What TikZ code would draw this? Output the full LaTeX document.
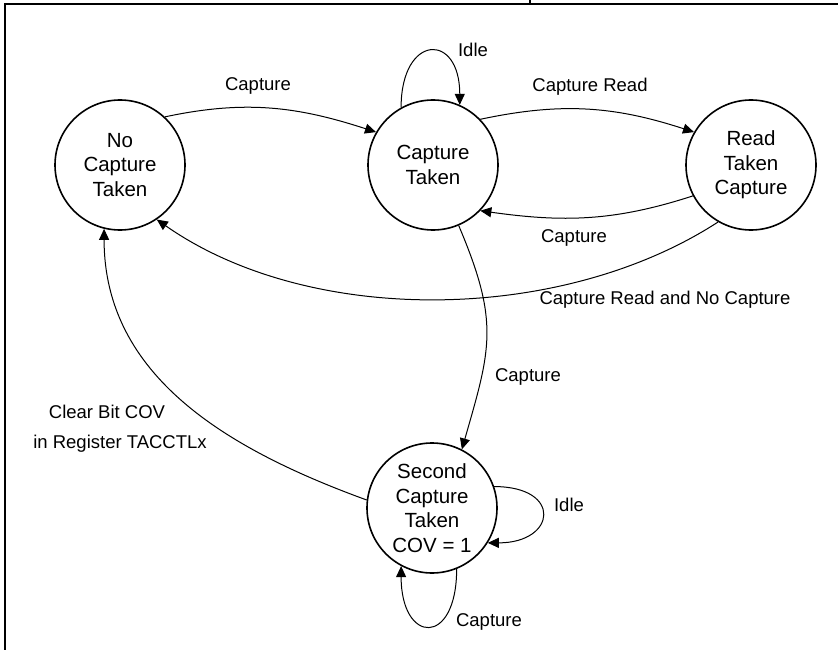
\documentclass[tikz,border=0pt]{standalone}
\usepackage{fontspec}
\setmainfont{Liberation Sans}
\usetikzlibrary{arrows.meta}

\begin{document}
\begin{tikzpicture}[x=1pt,y=1pt,
    state/.style={circle, draw, line width=1.6pt, minimum size=130pt, inner sep=0pt,
        align=center, font=\fontsize{20.5}{24.5}\selectfont},
    lbl/.style={inner sep=0pt, font=\fontsize{18.5}{22}\selectfont},
    arr/.style={line width=1pt, -{Triangle[length=11pt,width=10pt]}}]
    \useasboundingbox (0,0) rectangle (838,-650);
    % frame
    \draw[line width=2pt] (5,-650) -- (5,-4) -- (838,-4);
    \draw[line width=1.3pt] (530,0) -- (530,-4);
    % states
    \node[state] (nocap) at (120,-165) {No\\Capture\\Taken};
    \node[state] (cap) at (433,-165) {Capture\\Taken};
    \node[state] (read) at (751,-165) {Read\\Taken\\Capture};
    \node[state] (second) at (432,-508) {Second\\Capture\\Taken\\COV = 1};
    % transitions
    \draw[arr] (nocap.47) to[out=12,in=162] (cap.150);
    \draw[arr] (cap.44) to[out=12,in=162] (read.150);
    \draw[arr] (read.208) to[out=198,in=-8] (cap.316);
    \draw[arr] (read.240) to[out=213,in=-35,looseness=0.85] (nocap.-56);
    \draw[arr] (cap.293) to[out=-67,in=74,looseness=1.2] (second.63);
    \draw[arr] (second.173) to[out=160,in=-90] (nocap.256);
    % self loops
    \draw[arr] (cap.119) to[out=90,in=90,looseness=3.2] (cap.66);
    \draw[arr] (second.19) to[out=0,in=0,looseness=3.1] (second.-32);
    \draw[arr] (second.-68) to[out=-90,in=-90,looseness=3.6] (second.242);
    % labels
    \node[lbl] at (258,-86) {Capture};
    \node[lbl] at (590,-87) {Capture Read};
    \node[lbl] at (473,-50) {Idle};
    \node[lbl] at (574,-238) {Capture};
    \node[lbl] at (665,-300) {Capture Read and No Capture};
    \node[lbl] at (528,-377) {Capture};
    \node[lbl] at (107,-412) {Clear Bit COV};
    \node[lbl] at (120,-444) {in Register TACCTLx};
    \node[lbl] at (569,-505) {Idle};
    \node[lbl] at (489,-622) {Capture};
\end{tikzpicture}
\end{document}
